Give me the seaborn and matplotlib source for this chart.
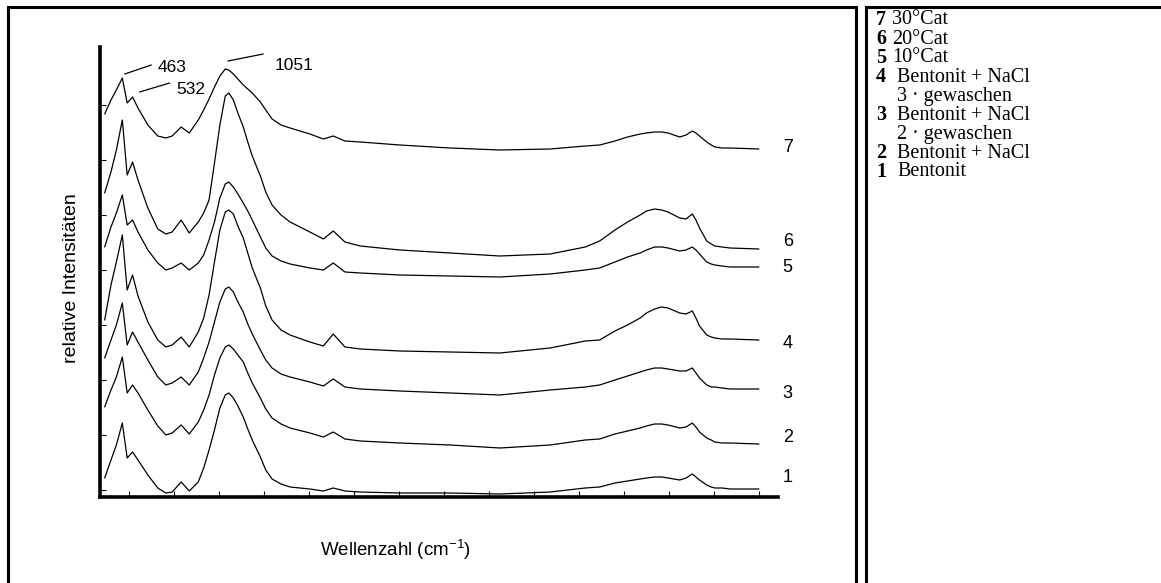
import pandas as pd
import seaborn as sns
import matplotlib.pyplot as plt
from matplotlib.patches import Rectangle
from matplotlib.lines import Line2D

# Wellenzahl (cm-1), gemeinsames Raster fuer alle Spektren
wellenzahl = [365, 400, 430, 463, 490, 520, 550, 605, 660, 705,
              740, 790, 835, 885, 915, 945, 975, 1005, 1035, 1055,
              1080, 1105, 1135, 1160, 1185, 1230, 1260, 1295, 1345, 1395,
              1505, 1580, 1635, 1700, 1785, 2005, 2285, 2560, 2840, 3035,
              3115, 3200, 3270, 3340, 3375, 3420, 3460, 3495, 3560, 3595,
              3630, 3650, 3670, 3710, 3735, 3755, 3795, 3840, 4000]

# relative Intensitaeten (gestapelt)
spek_1 = [19, 37, 52, 74, 39, 45, 37, 22, 9, 4,
          5, 15, 6, 15, 29, 47, 67, 89, 102, 104,
          99, 91, 80, 68, 57, 40, 27, 18, 13, 10,
          8, 6, 9, 6, 5, 4, 4, 3, 5, 9,
          10, 14, 16, 18, 19, 20, 20, 19, 17, 19,
          23, 20, 17, 12, 10, 9, 9, 8, 8]
spek_2 = [90, 107, 120, 140, 104, 112, 104, 87, 71, 62,
          64, 72, 63, 75, 87, 102, 122, 139, 150, 152,
          148, 142, 135, 124, 114, 99, 88, 79, 73, 69,
          64, 60, 65, 58, 56, 54, 52, 49, 52, 57,
          58, 63, 66, 69, 71, 73, 73, 72, 69, 70,
          74, 70, 65, 59, 57, 55, 54, 54, 53]
spek_3 = [139, 157, 172, 194, 152, 165, 155, 137, 120, 112,
          114, 120, 112, 125, 139, 155, 175, 195, 208, 210,
          205, 195, 185, 173, 163, 147, 137, 129, 123, 120,
          115, 111, 118, 110, 108, 106, 104, 102, 107, 110,
          112, 117, 121, 125, 127, 129, 129, 128, 126, 126,
          129, 124, 119, 112, 110, 110, 109, 108, 108]
spek_4 = [177, 212, 235, 262, 207, 222, 201, 175, 157, 150,
          152, 160, 150, 165, 179, 202, 235, 267, 285, 287,
          283, 271, 259, 244, 229, 209, 191, 177, 167, 162,
          155, 151, 163, 150, 148, 146, 145, 144, 149, 156,
          157, 166, 172, 179, 184, 188, 190, 189, 184, 183,
          186, 179, 171, 162, 160, 159, 158, 158, 157]
spek_5 = [250, 270, 284, 302, 272, 277, 265, 247, 234, 227,
          229, 234, 227, 234, 242, 257, 275, 299, 313, 315,
          310, 303, 294, 286, 277, 260, 249, 241, 236, 233,
          229, 227, 234, 225, 224, 222, 221, 220, 223, 227,
          229, 235, 240, 244, 247, 250, 250, 249, 246, 247,
          250, 247, 243, 235, 233, 232, 231, 230, 230]
spek_6 = [304, 325, 347, 377, 322, 335, 317, 289, 268, 263,
          265, 277, 264, 275, 284, 297, 334, 372, 401, 404,
          397, 384, 370, 355, 341, 321, 305, 292, 282, 275,
          265, 258, 266, 255, 251, 247, 244, 241, 243, 250,
          256, 267, 275, 282, 286, 288, 287, 285, 279, 278,
          283, 277, 269, 256, 253, 251, 250, 249, 248]
spek_7 = [383, 397, 407, 419, 394, 400, 389, 372, 361, 359,
          361, 370, 364, 377, 387, 398, 410, 421, 428, 427,
          423, 418, 412, 408, 404, 395, 387, 378, 372, 369,
          363, 358, 361, 356, 355, 352, 349, 347, 348, 351,
          352, 356, 360, 363, 364, 365, 365, 364, 360, 362,
          366, 364, 361, 355, 352, 350, 349, 349, 348]

proben = ['1', '2', '3', '4', '5', '6', '7']
spektren = [spek_1, spek_2, spek_3, spek_4, spek_5, spek_6, spek_7]

legende_nr = ['7', '6', '5', '4', '', '3', '', '2', '1']
legende_txt = ['30°Cat', '20°Cat', '10°Cat', 'Bentonit + NaCl', '3 · gewaschen',
               'Bentonit + NaCl', '2 · gewaschen', 'Bentonit + NaCl', 'Bentonit']

banden = ['463', '532', '1051']

df = pd.concat([pd.DataFrame({'wellenzahl': wellenzahl, 'intensitaet': s, 'probe': p})
                for p, s in zip(proben, spektren)])

sns.set_theme(style='white')
plt.rcParams['font.family'] = ['Liberation Sans', 'DejaVu Sans']
plt.rcParams['text.color'] = 'black'

fig = plt.figure(figsize=(11.61, 5.83), dpi=100)
W, H = 1161, 583
ax = fig.add_axes([100 / W, 1 - 497 / H, 678 / W, 450 / H])

sns.lineplot(data=df, x='wellenzahl', y='intensitaet', hue='probe', units='probe',
             estimator=None, palette={p: 'black' for p in proben}, linewidth=0.9,
             legend=False, ax=ax)

ax.set_xlim(339, 4106)
ax.set_ylim(0, 450)
ax.set_xticks(range(500, 4001, 250))
ax.set_yticks(range(7, 400, 55))
ax.set_xticklabels([])
ax.set_yticklabels([])
ax.tick_params(direction='in', length=4, width=0.8, color='black',
               bottom=True, left=True)
for s in ['top', 'right']:
    ax.spines[s].set_visible(False)
for s in ['left', 'bottom']:
    ax.spines[s].set_linewidth(2.6)
    ax.spines[s].set_color('black')
ax.set_xlabel('')
ax.set_ylabel('')

# Probennummern rechts neben den Spektren
label_y = [19, 60, 104, 153, 229, 256, 349]
for p, y in zip(proben, label_y):
    ax.text(4160, y, p, fontsize=13, color='black', ha='center', va='center', clip_on=False)

# Bandenbeschriftungen
ax.add_line(Line2D([476, 624], [423, 432], color='black', lw=0.9))
ax.text(661, 429, banden[0], fontsize=12.5, color='black', va='center')
ax.add_line(Line2D([559, 726], [405, 414], color='black', lw=0.9))
ax.text(761, 408, banden[1], fontsize=12.5, color='black', va='center')
ax.add_line(Line2D([1050, 1246], [436, 443], color='black', lw=0.9))
ax.text(1311, 431, banden[2], fontsize=12.5, color='black', va='center')

fig.text(395 / W, 1 - 550 / H, r'Wellenzahl (cm$^{\mathregular{-1}}$)', fontsize=13.5,
         color='black', ha='center', va='center')
fig.text(71 / W, 1 - 278 / H, 'relative Intensitäten', fontsize=14, rotation=90,
         color='black', ha='center', va='center')

# Rahmen
fig.add_artist(Rectangle((8 / W, -0.1), (856 - 8) / W, 1.1 - 7 / H, transform=fig.transFigure,
                         fill=False, lw=2.2, ec='black'))
fig.add_artist(Rectangle((866 / W, -0.1), 0.3, 1.1 - 7 / H, transform=fig.transFigure,
                         fill=False, lw=2.2, ec='black'))

# Legende
zeilen_y = [20, 39, 58, 77, 96, 115, 134, 153, 172]
for nr, txt, y in zip(legende_nr, legende_txt, zeilen_y):
    if nr:
        fig.text(876 / W, 1 - y / H, nr, fontsize=14.5, fontweight='bold', color='black',
                 family='Liberation Serif', va='center')
    x_txt = 892 if 'Cat' in txt else 897
    fig.text(x_txt / W, 1 - y / H, txt, fontsize=14.5, color='black',
             family='Liberation Serif', va='center')

fig.savefig('out.png', dpi=100)
